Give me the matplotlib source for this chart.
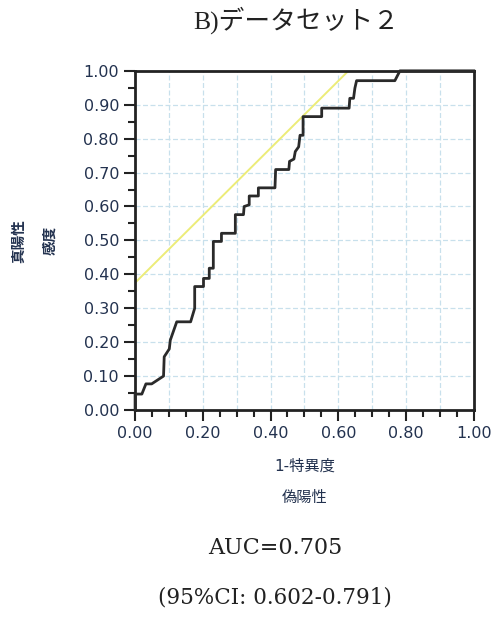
import matplotlib.pyplot as plt
from matplotlib.ticker import MultipleLocator

plt.rcParams['font.family'] = ['DejaVu Sans', 'Noto Sans CJK JP']

# ROC curve vertices (1-specificity, sensitivity)
fpr = [0.0, 0.0, 0.020, 0.032, 0.049, 0.084, 0.086, 0.101, 0.104, 0.123, 0.164,
       0.176, 0.176, 0.202, 0.202, 0.219, 0.219, 0.231, 0.231, 0.255, 0.255,
       0.296, 0.296, 0.320, 0.322, 0.337, 0.337, 0.364, 0.364, 0.413, 0.415,
       0.454, 0.456, 0.469, 0.473, 0.483, 0.487, 0.496, 0.496, 0.551, 0.551,
       0.632, 0.634, 0.645, 0.649, 0.654, 0.767, 0.782, 1.0]
tpr = [0.0, 0.047, 0.047, 0.077, 0.077, 0.100, 0.157, 0.180, 0.206, 0.260, 0.260,
       0.300, 0.364, 0.364, 0.388, 0.388, 0.418, 0.418, 0.497, 0.497, 0.521,
       0.521, 0.576, 0.576, 0.600, 0.605, 0.631, 0.631, 0.655, 0.655, 0.709,
       0.709, 0.733, 0.740, 0.762, 0.776, 0.810, 0.810, 0.865, 0.865, 0.890,
       0.890, 0.919, 0.919, 0.949, 0.971, 0.971, 1.0, 1.0]

# tangent (Youden) line with slope ~1
ref_x = [0.0, 0.63]
ref_y = [0.375, 1.0]

title = "B)データセット２"
auc_text = "AUC=0.705"
ci_text = "(95%CI: 0.602-0.791)"

txt_col = "#23324f"

fig = plt.figure(figsize=(4.93, 6.17), dpi=100)
ax = fig.add_axes([0.274, 0.3355, 0.687, 0.5497])

ax.plot(ref_x, ref_y, color="#ecec78", lw=1.4, zorder=2)
ax.plot(fpr, tpr, color="#2a2a2a", lw=2.0, zorder=3, clip_on=False)

ax.set_xlim(0, 1)
ax.set_ylim(0, 1)
ax.xaxis.set_major_locator(MultipleLocator(0.2))
ax.xaxis.set_minor_locator(MultipleLocator(0.05))
ax.yaxis.set_major_locator(MultipleLocator(0.1))
ax.yaxis.set_minor_locator(MultipleLocator(0.05))
ax.xaxis.set_major_formatter(lambda v, p: f"{v:.2f}")
ax.yaxis.set_major_formatter(lambda v, p: f"{v:.2f}")

# grid every 0.1 on both axes
for v in [i / 10 for i in range(1, 10)]:
    ax.axvline(v, color="#c8e0ec", lw=0.9, ls=(0, (4, 2)), zorder=1)
    ax.axhline(v, color="#c8e0ec", lw=0.9, ls=(0, (4, 2)), zorder=1)

ax.tick_params(which="major", length=8, width=1.5, direction="out",
               labelsize=11.5, labelcolor=txt_col, color="#222222")
ax.tick_params(which="minor", length=5, width=1.5, direction="out", color="#222222")
for s in ax.spines.values():
    s.set_linewidth(2)
    s.set_color("#222222")

fig.text(0.600, 0.967, title, ha="center", va="center", fontsize=18.5,
         family=["Liberation Serif", "Noto Sans CJK JP"], color="#222222")

fig.text(0.037, 0.61, "真陽性", rotation=90, ha="center", va="center",
         fontsize=10.5, color=txt_col, fontweight="bold")
fig.text(0.102, 0.61, "感度", rotation=90, ha="center", va="center",
         fontsize=10.5, color=txt_col, fontweight="bold")

fig.text(0.618, 0.245, "1-特異度", ha="center", va="center", fontsize=11, color=txt_col)
fig.text(0.618, 0.193, "偽陽性", ha="center", va="center", fontsize=11, color=txt_col)

fig.text(0.558, 0.112, auc_text, ha="center", va="center", fontsize=16,
         family="DejaVu Serif", color="#222222")
fig.text(0.558, 0.031, ci_text, ha="center", va="center", fontsize=15.5,
         family="DejaVu Serif", color="#222222")

fig.savefig("out.png", dpi=100)
